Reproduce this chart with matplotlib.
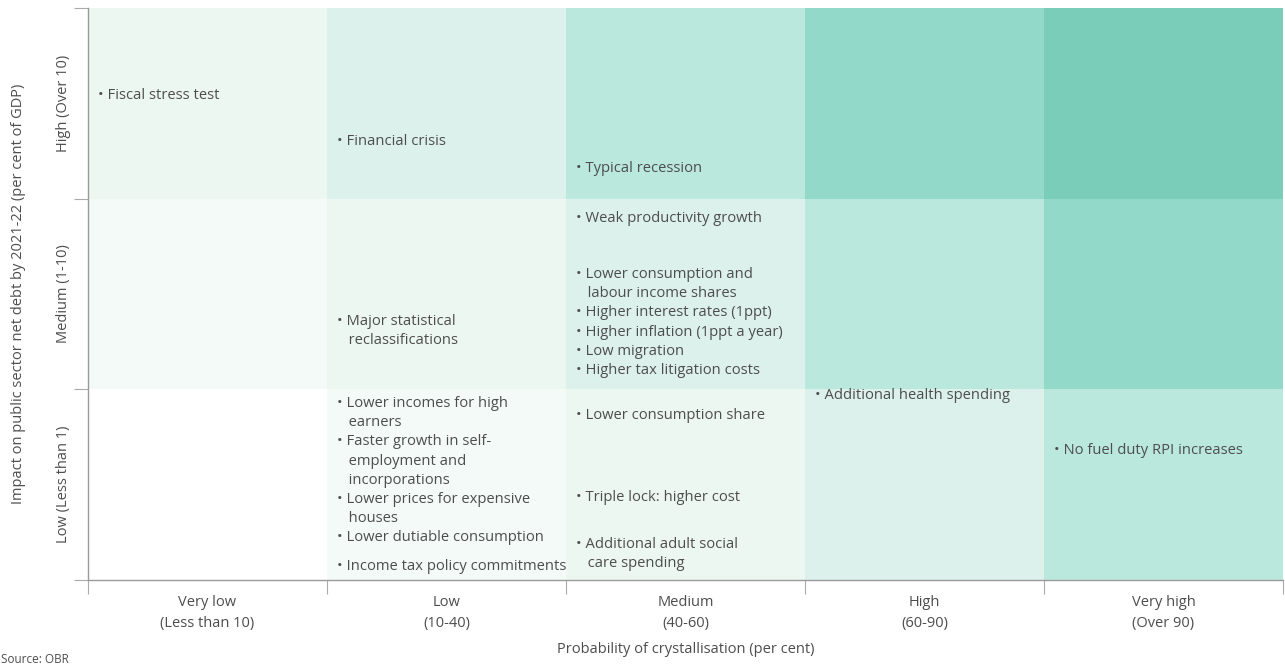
import matplotlib
matplotlib.use("Agg")
import matplotlib.pyplot as plt
import numpy as np

# ---------------- data ----------------
prob_labels = ["Very low\n(Less than 10)", "Low\n(10-40)", "Medium\n(40-60)",
               "High\n(60-90)", "Very high\n(Over 90)"]
impact_labels = ["Low (Less than 1)", "Medium (1-10)", "High (Over 10)"]

# risk items: (impact row, probability column, text)
item_rows = [2, 2, 2, 1, 1, 1, 0, 0, 0, 0, 0, 0, 0]
item_cols = [0, 1, 2, 2, 2, 1, 1, 1, 2, 2, 2, 3, 4]
item_texts = [
    "• Fiscal stress test",
    "• Financial crisis",
    "• Typical recession",
    "• Weak productivity growth",
    "• Lower consumption and\n   labour income shares\n• Higher interest rates (1ppt)\n"
    "• Higher inflation (1ppt a year)\n• Low migration\n• Higher tax litigation costs",
    "• Major statistical\n   reclassifications",
    "• Lower incomes for high\n   earners\n• Faster growth in self-\n   employment and\n"
    "   incorporations\n• Lower prices for expensive\n   houses\n• Lower dutiable consumption",
    "• Income tax policy commitments",
    "• Lower consumption share",
    "• Triple lock: higher cost",
    "• Additional adult social\n   care spending",
    "• Additional health spending",
    "• No fuel duty RPI increases",
]

# ---------------- layout ----------------
# vertical position (pixel row of first text line in the 667px image)
item_py = [97, 143, 170, 220, 276, 323, 405, 568, 417, 499, 546, 397, 452]
palette = ["#ffffff", "#f3faf7", "#edf7f2", "#dcf1eb", "#bae8dc", "#93d9ca", "#79cdb9"]

W, H = 1285, 667
fig = plt.figure(figsize=(W / 100, H / 100), dpi=100)
ax_left, ax_right, ax_top, ax_bot = 88, 1283, 8, 580
ax = fig.add_axes([ax_left / W, 1 - ax_bot / H, (ax_right - ax_left) / W, (ax_bot - ax_top) / H])

ncol, nrow = len(prob_labels), len(impact_labels)
levels = np.add.outer(np.arange(nrow), np.arange(ncol))
cmap = matplotlib.colors.ListedColormap(palette)
ax.pcolormesh(np.arange(ncol + 1), np.arange(nrow + 1), levels, cmap=cmap,
              vmin=-0.5, vmax=len(palette) - 0.5, shading="flat")
ax.set_xlim(0, ncol)
ax.set_ylim(0, nrow)

font = "Open Sans"
tcol = "#4d4d4d"
px_per_y = (ax_bot - ax_top) / nrow
for r, c, t, py in zip(item_rows, item_cols, item_texts, item_py):
    ytop = (ax_bot - (py - 9)) / px_per_y
    ax.text(c + 0.04, ytop, t, ha="left", va="top", fontsize=10.6, family=font,
            color=tcol, linespacing=1.38)

# ticks
ax.set_xticks(np.arange(ncol + 1))
ax.set_xticklabels([])
ax.set_xticks(np.arange(ncol) + 0.5, minor=True)
ax.set_xticklabels(prob_labels, minor=True, fontsize=10.5, family=font, color=tcol,
                   linespacing=1.5)
ax.set_yticks(np.arange(nrow + 1))
ax.set_yticklabels([])
ax.set_yticks(np.arange(nrow) + 0.5, minor=True)
ax.set_yticklabels(impact_labels, minor=True, fontsize=10.5, family=font, color=tcol,
                   rotation=90, va="center")
ax.tick_params(which="major", length=10, color="#aaaaaa", width=0.8)
ax.tick_params(which="minor", length=0)
ax.tick_params(axis="x", which="minor", pad=11)
ax.tick_params(axis="y", which="minor", pad=12)

for s in ["top", "right"]:
    ax.spines[s].set_visible(False)
for s in ["left", "bottom"]:
    ax.spines[s].set_color("#9a9a9a")
    ax.spines[s].set_linewidth(1.0)

ax.set_xlabel("Probability of crystallisation (per cent)", fontsize=10.5, family=font,
              color=tcol, labelpad=8)
ax.set_ylabel("Impact on public sector net debt by 2021-22 (per cent of GDP)", fontsize=10.5,
              family=font, color=tcol, labelpad=22)

fig.text(0.001, 0.002, "Source: OBR", fontsize=8.5, family=font, color=tcol,
         ha="left", va="bottom")

fig.savefig("out.png", dpi=100)
